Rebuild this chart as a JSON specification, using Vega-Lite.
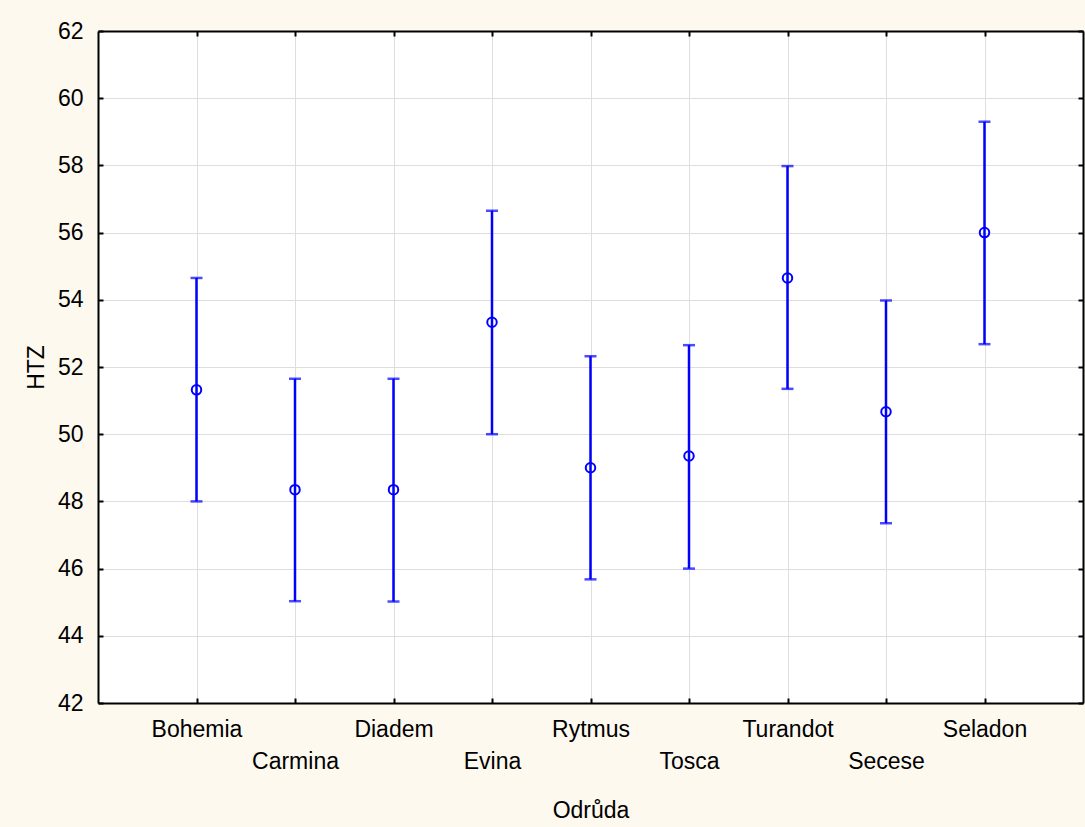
{
  "$schema": "https://vega.github.io/schema/vega-lite/v6.json",
  "autosize": {"type": "none"},
  "padding": {"left": 98, "top": 31, "right": 2, "bottom": 124},
  "width": 985,
  "height": 672,
  "background": "#FDF9EF",
  "config": {
    "view": {"fill": "white", "stroke": null},
    "axis": {
      "labelFont": "Liberation Sans",
      "titleFont": "Liberation Sans",
      "labelFontSize": 23,
      "titleFontSize": 23,
      "labelColor": "black",
      "titleColor": "black",
      "titleFontWeight": "normal",
      "domainColor": "black",
      "domainWidth": 2,
      "tickColor": "black",
      "tickWidth": 2,
      "tickSize": -5,
      "gridColor": "#DEDEDE",
      "gridWidth": 1
    }
  },
  "data": {
    "values": [
      {"odruda": "Bohemia", "mean": 51.32, "upper": 54.65, "lower": 48.0},
      {"odruda": "Carmina", "mean": 48.35, "upper": 51.65, "lower": 45.03},
      {"odruda": "Diadem", "mean": 48.35, "upper": 51.65, "lower": 45.02},
      {"odruda": "Evina", "mean": 53.33, "upper": 56.65, "lower": 50.0},
      {"odruda": "Rytmus", "mean": 49.0, "upper": 52.32, "lower": 45.68},
      {"odruda": "Tosca", "mean": 49.35, "upper": 52.65, "lower": 46.0},
      {"odruda": "Turandot", "mean": 54.65, "upper": 57.98, "lower": 51.35},
      {"odruda": "Secese", "mean": 50.67, "upper": 53.98, "lower": 47.35},
      {"odruda": "Seladon", "mean": 56.0, "upper": 59.3, "lower": 52.68}
    ]
  },
  "resolve": {"scale": {"x": "independent", "y": "independent"}},
  "layer": [
    {
      "encoding": {
        "x": {
          "field": "odruda",
          "type": "nominal",
          "sort": null,
          "scale": {"type": "point", "padding": 1, "domain": ["Bohemia", "Carmina", "Diadem", "Evina", "Rytmus", "Tosca", "Turandot", "Secese", "Seladon"]},
          "axis": {
            "orient": "bottom",
            "title": "Odrůda",
            "grid": true,
            "labelAngle": 0,
            "labelPadding": 38,
            "labelBaseline": "alphabetic",
            "labelLineHeight": 32,
            "labelExpr": "indexof(['Carmina','Evina','Tosca','Secese'], datum.value) >= 0 ? ['', datum.label] : datum.label",
            "titleY": 114,
            "titleBaseline": "alphabetic"
          }
        }
      },
      "layer": [
        {
          "mark": {"type": "rule", "color": "#0000FF", "strokeWidth": 2.5},
          "encoding": {
            "y": {
              "field": "lower",
              "type": "quantitative",
              "scale": {"domain": [42, 62], "nice": false, "zero": false},
              "axis": {
                "orient": "left",
                "title": "HTZ",
                "grid": true,
                "values": [42, 44, 46, 48, 50, 52, 54, 56, 58, 60, 62],
                "labelPadding": 20,
                "titleX": -62,
                "titleBaseline": "middle"
              }
            },
            "y2": {"field": "upper"}
          }
        },
        {
          "mark": {"type": "tick", "color": "#0000FF", "size": 12, "thickness": 2.5},
          "encoding": {"y": {"field": "lower", "type": "quantitative"}}
        },
        {
          "mark": {"type": "tick", "color": "#0000FF", "size": 12, "thickness": 2.5},
          "encoding": {"y": {"field": "upper", "type": "quantitative"}}
        }
      ]
    },
    {
      "mark": {"type": "point", "shape": "circle", "filled": false, "color": "#0000FF", "size": 90, "strokeWidth": 2, "opacity": 1},
      "encoding": {
        "x": {
          "field": "odruda",
          "type": "nominal",
          "sort": null,
          "scale": {"type": "point", "padding": 1, "domain": ["Bohemia", "Carmina", "Diadem", "Evina", "Rytmus", "Tosca", "Turandot", "Secese", "Seladon"]},
          "axis": {"orient": "top", "title": null, "labels": false, "grid": false}
        },
        "y": {
          "field": "mean",
          "type": "quantitative",
          "scale": {"domain": [42, 62], "nice": false, "zero": false},
          "axis": {"orient": "right", "title": null, "labels": false, "grid": false, "values": [42, 44, 46, 48, 50, 52, 54, 56, 58, 60, 62]}
        }
      }
    }
  ]
}
